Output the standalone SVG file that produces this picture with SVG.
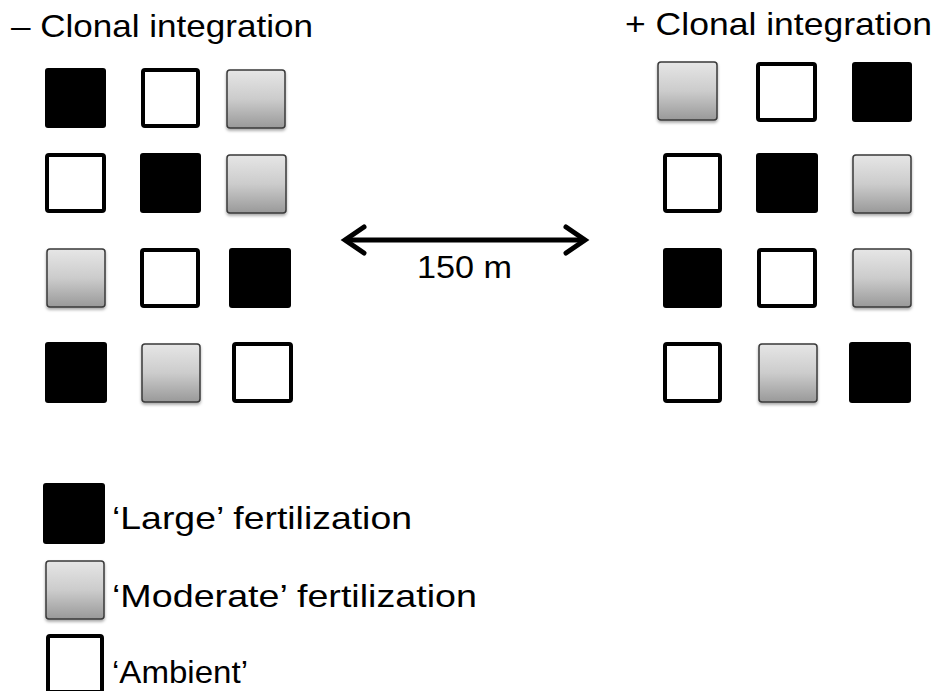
<svg xmlns="http://www.w3.org/2000/svg" width="937" height="691" viewBox="0 0 937 691">
  <style>
    .t { font-family: "Liberation Sans", Arial, Helvetica, sans-serif; font-size: 32px; fill: #000; }
    .blk { fill: #000; }
    .wht { fill: #fff; stroke: #000; stroke-width: 4; }
    .gry { fill: url(#gGrad); stroke: #3a3a3a; stroke-width: 1.5; filter: url(#sh); }
    .conn { stroke: #000; stroke-width: 5; fill: none; }
  </style>
  <defs>
    <linearGradient id="gGrad" x1="0" y1="0" x2="0" y2="1">
      <stop offset="0" stop-color="#e6e6e6"/>
      <stop offset="0.5" stop-color="#cccccc"/>
      <stop offset="1" stop-color="#999999"/>
    </linearGradient>
    <filter id="sh" x="-20%" y="-20%" width="140%" height="150%">
      <feDropShadow dx="0" dy="2" stdDeviation="1.5" flood-color="#000" flood-opacity="0.35"/>
    </filter>
    <marker id="chev" markerUnits="userSpaceOnUse" markerWidth="40" markerHeight="40" viewBox="-30 -20 40 40" refX="0" refY="0" orient="auto-start-reverse" overflow="visible">
      <path d="M-19,-13 L0,0 L-19,13" fill="none" stroke="#000" stroke-width="5" stroke-linejoin="miter" stroke-linecap="round"/>
    </marker>
  </defs>
  <rect width="937" height="691" fill="#fff"/>

  <g id="title-minus">
    <text class="t" x="11" y="37" textLength="302" lengthAdjust="spacingAndGlyphs">– Clonal integration</text>
  </g>
  <g id="title-plus">
    <text class="t" x="625" y="35" textLength="307" lengthAdjust="spacingAndGlyphs">+ Clonal integration</text>
  </g>

  <!-- Left grid (– clonal integration) -->
  <g id="left-grid">
    <g id="L-r1c1"><rect class="blk" x="45" y="68" width="61" height="60" rx="3"/></g>
    <g id="L-r1c2"><rect class="wht" x="143" y="70" width="55" height="56" rx="2"/></g>
    <g id="L-r1c3"><rect class="gry" x="227" y="70" width="58" height="58" rx="3"/></g>

    <g id="L-r2c1"><rect class="wht" x="47" y="155" width="57" height="56" rx="2"/></g>
    <g id="L-r2c2"><rect class="blk" x="140" y="153" width="61" height="60" rx="3"/></g>
    <g id="L-r2c3"><rect class="gry" x="227" y="155" width="59" height="58" rx="3"/></g>

    <g id="L-r3c1"><rect class="gry" x="47" y="249" width="58" height="58" rx="3"/></g>
    <g id="L-r3c2"><rect class="wht" x="142" y="250" width="56" height="56" rx="2"/></g>
    <g id="L-r3c3"><rect class="blk" x="229" y="248" width="62" height="60" rx="3"/></g>

    <g id="L-r4c1"><rect class="blk" x="45" y="342" width="62" height="61" rx="3"/></g>
    <g id="L-r4c2"><rect class="gry" x="142" y="344" width="58" height="58" rx="3"/></g>
    <g id="L-r4c3"><rect class="wht" x="234" y="344" width="57" height="57" rx="2"/></g>
  </g>

  <!-- Right grid (+ clonal integration) -->
  <g id="right-grid">
    <g id="R-r1c1"><rect class="gry" x="658" y="62" width="59" height="58" rx="3"/></g>
    <g id="R-r1c2"><rect class="wht" x="758" y="64" width="57" height="56" rx="2"/></g>
    <g id="R-r1c3"><rect class="blk" x="852" y="62" width="60" height="60" rx="3"/></g>

    <g id="R-r2c1"><rect class="wht" x="665" y="155" width="55" height="56" rx="2"/></g>
    <g id="R-r2c2"><rect class="blk" x="756" y="153" width="62" height="60" rx="3"/></g>
    <g id="R-r2c3"><rect class="gry" x="853" y="155" width="58" height="58" rx="3"/></g>

    <g id="R-r3c1"><rect class="blk" x="663" y="248" width="59" height="60" rx="3"/></g>
    <g id="R-r3c2"><rect class="wht" x="759" y="250" width="56" height="56" rx="2"/></g>
    <g id="R-r3c3"><rect class="gry" x="853" y="249" width="58" height="58" rx="3"/></g>

    <g id="R-r4c1"><rect class="wht" x="665" y="344" width="55" height="57" rx="2"/></g>
    <g id="R-r4c2"><rect class="gry" x="759" y="344" width="58" height="58" rx="3"/></g>
    <g id="R-r4c3"><rect class="blk" x="849" y="342" width="62" height="61" rx="3"/></g>
  </g>

  <!-- Distance connector -->
  <g id="connectors">
    <line class="conn" x1="345" y1="240" x2="585" y2="240" marker-start="url(#chev)" marker-end="url(#chev)"/>
  </g>
  <g id="distance-label">
    <text class="t" x="417" y="278" textLength="95" lengthAdjust="spacingAndGlyphs">150 m</text>
  </g>

  <!-- Legend -->
  <g id="legend-large">
    <rect class="blk" x="43" y="483" width="62" height="61" rx="3"/>
    <text class="t" x="112" y="529" textLength="300" lengthAdjust="spacingAndGlyphs">‘Large’ fertilization</text>
  </g>
  <g id="legend-moderate">
    <rect class="gry" x="46" y="561" width="58" height="58" rx="3"/>
    <text class="t" x="112" y="607" textLength="365" lengthAdjust="spacingAndGlyphs">‘Moderate’ fertilization</text>
  </g>
  <g id="legend-ambient">
    <rect class="wht" x="48" y="636" width="54" height="56" rx="2"/>
    <text class="t" x="112" y="683" textLength="136" lengthAdjust="spacingAndGlyphs">‘Ambient’</text>
  </g>
</svg>
